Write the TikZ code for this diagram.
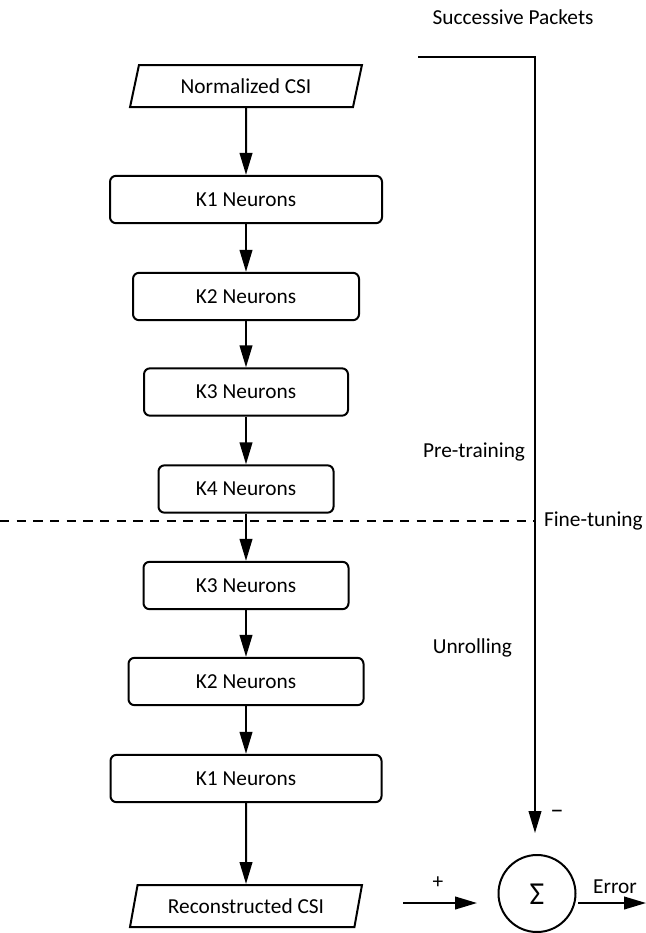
\documentclass[tikz,border=0pt]{standalone}
\usepackage{fontspec}
\setmainfont{Carlito}
\usetikzlibrary{arrows.meta,shapes.geometric}

\tikzset{every picture/.style={line width=1.5pt}}
\tikzset{
  layerbox/.style={draw, rounded corners=4.5pt, minimum height=35.5pt, inner sep=0pt, font=\fontsize{16}{19}\selectfont},
  csibox/.style={draw, trapezium, trapezium left angle=70, trapezium right angle=110, trapezium stretches=true, minimum width=174pt, minimum height=31.5pt, inner sep=0pt, font=\fontsize{16}{19}\selectfont},
  sumnode/.style={draw, circle, minimum size=57.75pt, inner sep=0pt},
  lbl/.style={inner sep=0pt, font=\fontsize{16}{19}\selectfont},
  flow/.style={-{Triangle[length=16.5pt,width=9.5pt]}}
}

\begin{document}
\begin{tikzpicture}[x=0.75pt,y=0.75pt,yscale=-1,xscale=1]
\useasboundingbox (0,0) rectangle (646,933);

% Input / output
\node [csibox] (normcsi) at (246,86) {Normalized CSI};
\node [csibox] (reccsi) at (246,906) {Reconstructed CSI};

% Encoder layers
\node [layerbox, minimum width=204pt] (enKa) at (246,199.5) {K1 Neurons};
\node [layerbox, minimum width=169.5pt] (enKb) at (246,296.5) {K2 Neurons};
\node [layerbox, minimum width=153pt] (enKc) at (246,392) {K3 Neurons};
\node [layerbox, minimum width=131.25pt] (enKd) at (246,489) {K4 Neurons};

% Decoder layers
\node [layerbox, minimum width=153.75pt] (deKc) at (246,585.5) {K3 Neurons};
\node [layerbox, minimum width=176.25pt] (deKb) at (246,681.5) {K2 Neurons};
\node [layerbox, minimum width=203.25pt] (deKa) at (246,778.5) {K1 Neurons};

% Summing junction
\node [sumnode] (sum) at (537,893.5) {};
\node [inner sep=0pt, font=\fontsize{24}{28}\selectfont] (sigma) at (537,894) {Σ};

% Straight Lines
\draw [flow] (normcsi.south) -- (enKa.north);
\draw [flow] (enKa) -- (enKb);
\draw [flow] (enKb) -- (enKc);
\draw [flow] (enKc) -- (enKd);
\draw [flow] (enKd) -- (deKc);
\draw [flow] (deKc) -- (deKb);
\draw [flow] (deKb) -- (deKa);
\draw [flow] (deKa.south) -- (reccsi.north);

% Packets feedback
\coordinate (fbStart) at (418,57);
\coordinate (fbEnd) at (535,833);
\draw [flow] (fbStart) -| (fbEnd);

% Stage boundary
\coordinate (splitL) at (0,521);
\coordinate (splitR) at (535,521);
\draw [dash pattern={on 7pt off 5.5pt}] (splitL) -- (splitR);

% Into and out of the sum
\coordinate (plusStart) at (403,903);
\coordinate (plusEnd) at (477,903);
\draw [flow] (plusStart) -- (plusEnd);
\coordinate (errStart) at (578,903);
\coordinate (errEnd) at (646,903);
\draw [flow] (errStart) -- (errEnd);

% Text Node
\node [lbl] (packets) at (513,17) {Successive Packets};
% Text Node
\node [lbl, anchor=east] (pretrain) at (526,452) {Pre-training};
% Text Node
\node [lbl, anchor=west] (finetune) at (543,521) {Fine-tuning};
% Text Node
\node [lbl, anchor=east] (unroll) at (513,648) {Unrolling};
% Text Node
\node [lbl] (plus) at (438,883) {+};
% Text Node
\node [lbl, font=\fontsize{20}{22}\selectfont] (minus) at (557,814) {–};
% Text Node
\node [lbl] (error) at (615,887) {Error};

\end{tikzpicture}
\end{document}
